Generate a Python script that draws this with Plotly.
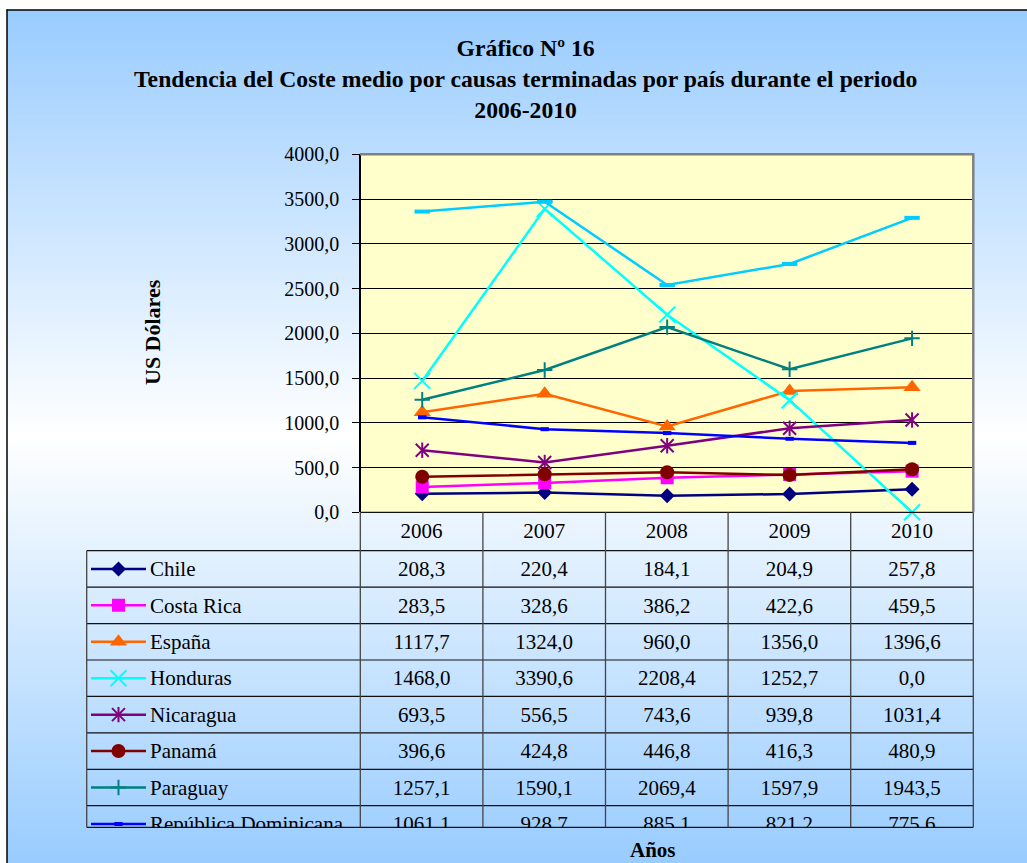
import plotly.graph_objects as go

W, H = 1027, 863


def px(x):
    return x / W


def py(y):
    return 1 - y / H


# ---------------- data ----------------
years = ["2006", "2007", "2008", "2009", "2010"]
countries = ["Chile", "Costa Rica", "España", "Honduras", "Nicaragua",
             "Panamá", "Paraguay", "República Dominicana", "Uruguay"]
chile = [208.3, 220.4, 184.1, 204.9, 257.8]
costa_rica = [283.5, 328.6, 386.2, 422.6, 459.5]
espana = [1117.7, 1324.0, 960.0, 1356.0, 1396.6]
honduras = [1468.0, 3390.6, 2208.4, 1252.7, 0.0]
nicaragua = [693.5, 556.5, 743.6, 939.8, 1031.4]
panama = [396.6, 424.8, 446.8, 416.3, 480.9]
paraguay = [1257.1, 1590.1, 2069.4, 1597.9, 1943.5]
rep_dominicana = [1061.1, 928.7, 885.1, 821.2, 775.6]
uruguay = [3360.0, 3470.0, 2540.0, 2775.0, 3290.0]
series = [chile, costa_rica, espana, honduras, nicaragua, panama, paraguay,
          rep_dominicana, uruguay]
visible_rows = 8  # the data table is cut off after "República Dominicana"

colors = ["#000080", "#FF00FF", "#FF6600", "#00FFFF", "#800080", "#800000",
          "#008080", "#0000FF", "#00CCFF"]
symbols = ["diamond", "square", "triangle-up", "x-thin", "x-thin", "circle",
           "cross-thin", "line-ew", "line-ew"]
msizes = [11.5, 13, 15, 16, 13, 14, 11, 6, 11]
mlw = [0, 0, 0, 2, 2, 0, 2, 4, 4]

FONT = "Liberation Serif, Times New Roman, serif"

fig = go.Figure()

# ---------------- background gradient & frame ----------------
shapes = []
blue = (153, 204, 255)
top, bot = 10, 863
mid = (top + bot) / 2
half = (bot - top) / 2
step = 3
y = top
while y < bot:
    t = min(1.0, abs((y + step / 2) - mid) / half)
    c = tuple(int(round(255 * (1 - t) + b * t)) for b in blue)
    shapes.append(dict(type="rect", xref="paper", yref="paper",
                       x0=px(7), x1=1, y0=py(min(bot, y + step + 0.5)), y1=py(y),
                       fillcolor="rgb(%d,%d,%d)" % c, line=dict(width=0),
                       layer="below"))
    y += step

# plot area yellow
shapes.append(dict(type="rect", xref="paper", yref="paper",
                   x0=px(361), x1=px(973.3), y0=py(512.3), y1=py(154.3),
                   fillcolor="#FFFFCC", line=dict(width=0), layer="below"))
# gray top & right border of plot area
shapes.append(dict(type="line", xref="paper", yref="paper",
                   x0=px(360), x1=px(974), y0=py(154.3), y1=py(154.3),
                   line=dict(color="#808080", width=2.5), layer="above"))
shapes.append(dict(type="line", xref="paper", yref="paper",
                   x0=px(973.3), x1=px(973.3), y0=py(512.3), y1=py(153.5),
                   line=dict(color="#808080", width=2.5), layer="above"))
# outer frame
shapes.append(dict(type="line", xref="paper", yref="paper",
                   x0=px(6.5), x1=1, y0=py(10), y1=py(10),
                   line=dict(color="black", width=1.5), layer="above"))
shapes.append(dict(type="line", xref="paper", yref="paper",
                   x0=px(7), x1=px(7), y0=0, y1=py(9.5),
                   line=dict(color="black", width=1.5), layer="above"))

# ---------------- main chart ----------------
for i, (name, vals) in enumerate(zip(countries, series)):
    fig.add_trace(go.Scatter(
        x=years, y=vals, mode="lines+markers", name=name,
        line=dict(color=colors[i], width=2.5),
        marker=dict(symbol=symbols[i], size=msizes[i], color=colors[i],
                    line=dict(color=colors[i], width=mlw[i])),
        xaxis="x", yaxis="y", showlegend=False, cliponaxis=False,
        hoverinfo="skip"))
    if name == "Nicaragua":
        fig.add_trace(go.Scatter(
            x=years, y=vals, mode="markers",
            marker=dict(symbol="line-ns", size=11, color=colors[i],
                        line=dict(color=colors[i], width=2)),
            xaxis="x", yaxis="y", showlegend=False, cliponaxis=False,
            hoverinfo="skip"))

# ---------------- data table (pixel-coordinate subplot) ----------------
tbl_left = 86.7
col_x = [360.3 + 122.6 * j for j in range(6)]
header_top, header_bot = 512.3, 550.7
row_h = 36.43
table_bot = 827.3
txt_dy = 2.0

lx, ly = [], []
lx += [col_x[0], col_x[-1], None]
ly += [header_top, header_top, None]
for k in range(8):
    yy = header_bot + row_h * k
    lx += [tbl_left, col_x[-1], None]
    ly += [yy, yy, None]
lx += [tbl_left, col_x[-1], None]
ly += [table_bot, table_bot, None]
fig.add_trace(go.Scatter(x=lx, y=ly, mode="lines", line=dict(color="#111111", width=1.2),
                         xaxis="x2", yaxis="y2", showlegend=False, hoverinfo="skip"))
vx, vy = [], []
for j, xx in enumerate(col_x):
    vx += [xx, xx, None]
    vy += [header_top, table_bot, None]
vx += [tbl_left, tbl_left, None]
vy += [header_bot, table_bot, None]
fig.add_trace(go.Scatter(x=vx, y=vy, mode="lines", line=dict(color="#444444", width=1.3),
                         xaxis="x2", yaxis="y2", showlegend=False, hoverinfo="skip"))

col_c = [(col_x[j] + col_x[j + 1]) / 2 for j in range(5)]
fig.add_trace(go.Scatter(x=col_c, y=[(header_top + header_bot) / 2 + 1.5] * 5, mode="text",
                         text=years, textposition="middle center",
                         textfont=dict(family=FONT, size=21, color="black"),
                         xaxis="x2", yaxis="y2", showlegend=False, hoverinfo="skip"))


def fmt(v):
    return ("%.1f" % v).replace(".", ",")


for i in range(visible_rows):
    name, vals = countries[i], series[i]
    yc = header_bot + row_h * (i + 0.5)
    fig.add_trace(go.Scatter(x=col_c, y=[yc + txt_dy] * 5, mode="text",
                             text=[fmt(v) for v in vals], textposition="middle center",
                             textfont=dict(family=FONT, size=21, color="black"),
                             xaxis="x2", yaxis="y2", showlegend=False, hoverinfo="skip"))
    fig.add_trace(go.Scatter(x=[91, 146], y=[yc, yc], mode="lines",
                             line=dict(color=colors[i], width=2.5),
                             xaxis="x2", yaxis="y2", showlegend=False, hoverinfo="skip"))
    fig.add_trace(go.Scatter(x=[118.5], y=[yc], mode="markers",
                             marker=dict(symbol=symbols[i], size=msizes[i], color=colors[i],
                                         line=dict(color=colors[i], width=mlw[i])),
                             xaxis="x2", yaxis="y2", showlegend=False, hoverinfo="skip"))
    if name == "Nicaragua":
        fig.add_trace(go.Scatter(x=[118.5], y=[yc], mode="markers",
                                 marker=dict(symbol="line-ns", size=11, color=colors[i],
                                             line=dict(color=colors[i], width=2)),
                                 xaxis="x2", yaxis="y2", showlegend=False, hoverinfo="skip"))
    fig.add_trace(go.Scatter(x=[150], y=[yc + txt_dy], mode="text", text=[name],
                             textposition="middle right",
                             textfont=dict(family=FONT, size=21, color="black"),
                             xaxis="x2", yaxis="y2", showlegend=False, hoverinfo="skip"))

# ---------------- layout ----------------
annotations = [
    dict(text="<b>Gráfico Nº 16<br>Tendencia del Coste medio por causas terminadas por país durante el periodo<br>2006-2010</b>",
         x=px(525), y=py(79), xref="paper", yref="paper", xanchor="center", yanchor="middle",
         showarrow=False, font=dict(family=FONT, size=23.7, color="black")),
    dict(text="<b>US Dólares</b>", x=px(152), y=py(332), xref="paper", yref="paper",
         xanchor="center", yanchor="middle", textangle=-90, showarrow=False,
         font=dict(family=FONT, size=22, color="black")),
    dict(text="<b>Años</b>", x=px(653), y=py(850), xref="paper", yref="paper",
         xanchor="center", yanchor="middle", showarrow=False,
         font=dict(family=FONT, size=21, color="black")),
]

fig.update_layout(
    width=W, height=H, margin=dict(l=0, r=0, t=0, b=0, pad=0, autoexpand=False),
    paper_bgcolor="white", plot_bgcolor="rgba(0,0,0,0)",
    separators=",.",
    shapes=shapes, annotations=annotations, showlegend=False,
    xaxis=dict(domain=[px(361), px(973.3)], anchor="y", type="category",
               range=[-0.5, 4.5], showticklabels=False, showgrid=False,
               zeroline=False, showline=False, ticks="", fixedrange=True,
               automargin=False),
    yaxis=dict(domain=[py(512.3), py(154.3)], anchor="x", range=[0, 4000], dtick=500,
               tickformat=".1f", ticks="outside", ticklen=7, tickwidth=1.2,
               tickcolor="black", showline=True, linecolor="black", linewidth=1.5,
               showgrid=True, gridcolor="black", gridwidth=1, zeroline=False,
               tickfont=dict(family=FONT, size=20, color="black"),
               ticklabelstandoff=9, fixedrange=True, automargin=False),
    xaxis2=dict(domain=[px(tbl_left - 1), px(975)], anchor="y2", range=[tbl_left - 1, 975],
                showticklabels=False, showgrid=False, zeroline=False, showline=False,
                ticks="", fixedrange=True, automargin=False),
    yaxis2=dict(domain=[py(828), py(511)], anchor="x2", range=[828, 511],
                showticklabels=False, showgrid=False, zeroline=False, showline=False,
                ticks="", fixedrange=True, automargin=False),
)

fig.write_html("out.html", config={"displayModeBar": False},
               post_script="document.body.style.margin='0';document.body.style.overflow='hidden';")
